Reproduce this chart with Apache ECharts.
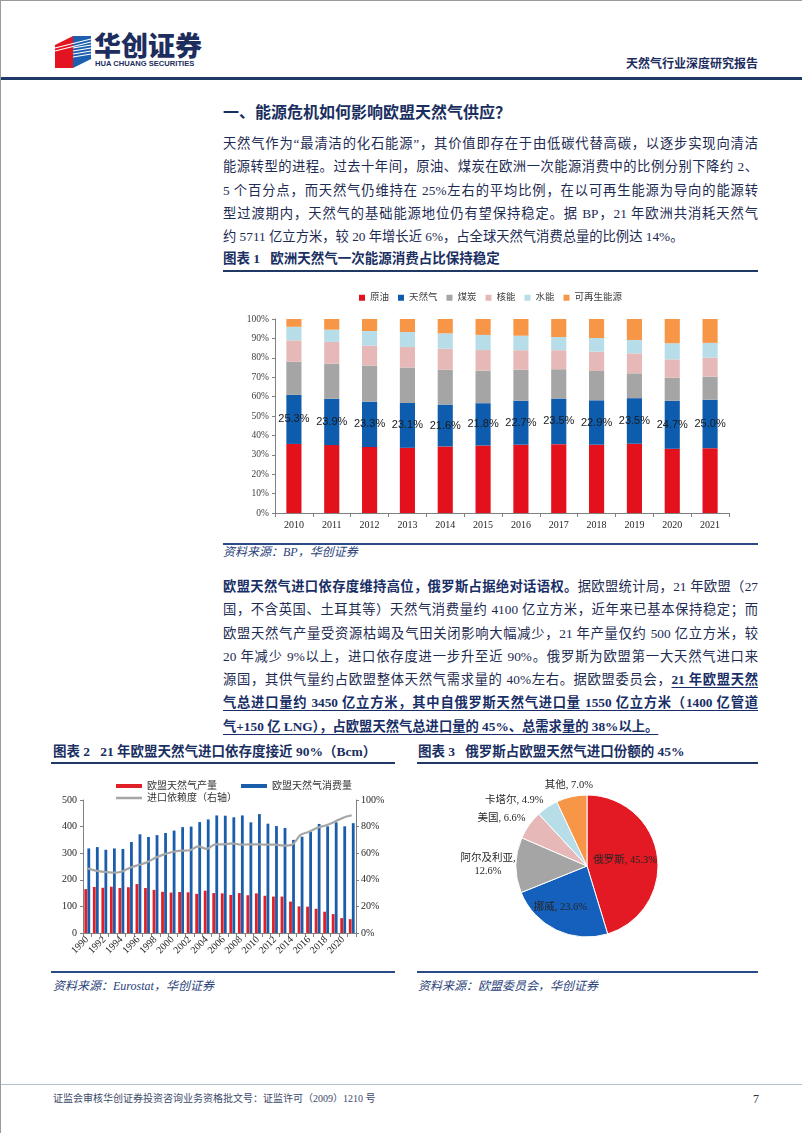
<!DOCTYPE html>
<html><head><meta charset="utf-8">
<script src="https://cdn.jsdelivr.net/npm/echarts/dist/echarts.min.js"></script>
<style>
html,body{margin:0;padding:0;background:#fff;}
#page{position:relative;width:802px;height:1133px;overflow:hidden;background:#fff;font-family:'Liberation Serif','Noto Sans CJK SC',serif;border-left:1px solid #9a9a9a;border-top:1px solid #9a9a9a;box-sizing:border-box;}
.t{position:absolute;white-space:nowrap;}
.rule{position:absolute;background:#1f3864;}
.para{position:absolute;left:222px;width:535px;font-size:13.3px;line-height:23.3px;color:#1d2b52;}
.para div{text-align:justify;text-align-last:justify;}
.para div.last{text-align:left;text-align-last:left;}
.b{font-weight:700;color:#182e66;}
.u{font-weight:700;color:#182e66;text-decoration:underline;text-underline-offset:3px;}
.title{font-size:13.5px;line-height:20px;font-weight:700;color:#1a2f62;}
.src{font-size:12px;line-height:20px;font-style:italic;color:#2a4279;}
.chart{position:absolute;}
</style></head>
<body>
<div id="page">
  <!-- header logo -->
  <svg style="position:absolute;left:50px;top:30px" width="44" height="40" viewBox="0 0 44 40">
    <polygon points="4,14 22,5 22,37 4,37" fill="#e3141f"/>
    <polygon points="22,5 40,5 40,28 22,37" fill="#1c5fb0"/>
    <g stroke="#fff" stroke-width="1.2">
      <line x1="4" y1="17" x2="40" y2="8"/>
      <line x1="4" y1="20" x2="40" y2="11"/>
      <line x1="22" y1="17" x2="40" y2="14"/>
      <line x1="22" y1="20" x2="40" y2="17"/>
      <line x1="22" y1="23" x2="40" y2="20"/>
      <line x1="22" y1="26" x2="40" y2="23"/>
    </g>
  </svg>
  <div class="t" style="left:93px;top:27px;font-size:27px;line-height:34px;font-weight:900;color:#1c2d5e;font-family:'Noto Sans CJK SC',sans-serif;">华创证券</div>
  <div class="t" style="left:94px;top:58px;font-size:7.6px;line-height:10px;font-weight:700;color:#1c2d5e;font-family:'Liberation Sans',sans-serif;">HUA CHUANG SECURITIES</div>
  <div class="t" style="left:625px;top:55px;font-size:12px;line-height:16px;font-weight:700;color:#1c2d5e;">天然气行业深度研究报告</div>
  <div class="rule" style="left:0;top:76px;width:802px;height:2.5px;background:#1f3a68;"></div>

  <div class="t" style="left:222px;top:101px;font-size:16px;line-height:22px;font-weight:700;color:#1a2f60;">一、能源危机如何影响欧盟天然气供应？</div>

  <div class="para" style="top:131px;">
    <div>天然气作为“最清洁的化石能源”，其价值即存在于由低碳代替高碳，以逐步实现向清洁</div>
    <div>能源转型的进程。过去十年间，原油、煤炭在欧洲一次能源消费中的比例分别下降约 2、</div>
    <div>5 个百分点，而天然气仍维持在 25%左右的平均比例，在以可再生能源为导向的能源转</div>
    <div>型过渡期内，天然气的基础能源地位仍有望保持稳定。据 BP，21 年欧洲共消耗天然气</div>
    <div class="last">约 5711 亿立方米，较 20 年增长近 6%，占全球天然气消费总量的比例达 14%。</div>
  </div>

  <div class="t title" style="left:222px;top:248px;">图表 1&nbsp;&nbsp;&nbsp;欧洲天然气一次能源消费占比保持稳定</div>
  <div class="rule" style="left:222px;top:269px;width:535px;height:2px;"></div>
  <div id="c1" class="chart" style="left:222px;top:280px;width:535px;height:258px;"></div>
  <div class="rule" style="left:222px;top:542px;width:535px;height:1.5px;background:#2a4b86;"></div>
  <div class="t src" style="left:222px;top:541px;">资料来源：BP，华创证券</div>

  <div class="para" style="top:574px;">
    <div><span class="b">欧盟天然气进口依存度维持高位，俄罗斯占据绝对话语权。</span>据欧盟统计局，21 年欧盟（27</div>
    <div>国，不含英国、土耳其等）天然气消费量约 4100 亿立方米，近年来已基本保持稳定；而</div>
    <div>欧盟天然气产量受资源枯竭及气田关闭影响大幅减少，21 年产量仅约 500 亿立方米，较</div>
    <div>20 年减少 9%以上，进口依存度进一步升至近 90%。俄罗斯为欧盟第一大天然气进口来</div>
    <div>源国，其供气量约占欧盟整体天然气需求量的 40%左右。据欧盟委员会，<span class="u">21 年欧盟天然</span></div>
    <div><span class="u">气总进口量约 3450 亿立方米，其中自俄罗斯天然气进口量 1550 亿立方米（1400 亿管道</span></div>
    <div class="last"><span class="u">气+150 亿 LNG），占欧盟天然气总进口量的 45%、总需求量的 38%以上。</span></div>
  </div>

  <div class="t title" style="left:52px;top:741px;">图表 2&nbsp;&nbsp;&nbsp;21 年欧盟天然气进口依存度接近 90%（Bcm）</div>
  <div class="t title" style="left:417px;top:741px;">图表 3&nbsp;&nbsp;&nbsp;俄罗斯占欧盟天然气进口份额的 45%</div>
  <div class="rule" style="left:50px;top:761px;width:344px;height:2px;"></div>
  <div class="rule" style="left:416px;top:761px;width:341px;height:2px;"></div>
  <div id="c2" class="chart" style="left:40px;top:768px;width:360px;height:200px;"></div>
  <div id="c3" class="chart" style="left:417px;top:768px;width:340px;height:200px;"></div>
  <div class="rule" style="left:50px;top:970px;width:344px;height:1.5px;background:#2a4b86;"></div>
  <div class="rule" style="left:416px;top:970px;width:341px;height:1.5px;background:#2a4b86;"></div>
  <div class="t src" style="left:52px;top:975px;">资料来源：Eurostat，华创证券</div>
  <div class="t src" style="left:417px;top:975px;">资料来源：欧盟委员会，华创证券</div>

  <div class="rule" style="left:0;top:1083px;width:802px;height:1px;background:#b3bfd3;"></div>
  <div class="t" style="left:52px;top:1090px;font-size:10px;line-height:16px;color:#3b4a6b;">证监会审核华创证券投资咨询业务资格批文号：证监许可（2009）1210 号</div>
  <div class="t" style="left:752px;top:1089px;font-size:12px;line-height:18px;color:#333;">7</div>
</div>

<script>
// ---------- Chart 1 data (share of primary energy consumption, %) ----------
const years1 = ['2010','2011','2012','2013','2014','2015','2016','2017','2018','2019','2020','2021'];
const oil     = [35.6, 35.0, 34.0, 33.6, 34.3, 34.8, 35.2, 35.5, 35.2, 35.7, 33.1, 33.4];
const gas     = [25.3, 23.9, 23.3, 23.1, 21.6, 21.8, 22.7, 23.5, 22.9, 23.5, 24.7, 25.0];
const coal    = [17.1, 18.1, 18.7, 18.3, 18.0, 16.8, 16.0, 15.1, 15.1, 12.8, 12.0, 11.9];
const nuclear = [11.0, 11.2, 10.3, 10.6, 10.8, 10.6, 10.0, 9.8, 10.0, 10.3, 9.4, 9.8];
const hydro   = [7.0, 6.3, 7.5, 7.7, 7.9, 7.8, 7.5, 6.8, 7.0, 6.9, 8.3, 7.6];
const renew   = [4.0, 5.5, 6.2, 6.7, 7.4, 8.2, 8.6, 9.3, 9.8, 10.8, 12.5, 12.3];
const names1  = ['原油','天然气','煤炭','核能','水能','可再生能源'];

// ---------- Chart 2 data (Bcm, %) ----------
const years2 = ['1990','1991','1992','1993','1994','1995','1996','1997','1998','1999','2000','2001','2002','2003','2004','2005','2006','2007','2008','2009','2010','2011','2012','2013','2014','2015','2016','2017','2018','2019','2020','2021'];
const production  = [165,173,170,174,169,172,184,169,162,155,152,154,153,147,159,150,149,143,150,142,149,140,137,137,118,100,99,91,80,71,56,52];
const consumption = [318,323,313,318,316,342,371,361,368,376,385,398,400,417,427,442,441,435,442,416,447,411,402,395,350,362,380,410,401,416,401,413];
const dependence  = [48.6,46.9,45.9,45.4,46.1,49.1,51.1,53.1,56.6,59.1,60.9,61.9,62.2,65.2,63.2,66.7,66.7,67.4,66.4,66.7,66.7,66.4,66.4,65.7,66.4,73.7,76.2,79.2,81.0,83.7,86.7,88.5];
const names2 = ['欧盟天然气产量','欧盟天然气消费量','进口依赖度（右轴）'];

// ---------- Chart 3 data (share of EU gas imports, %) ----------
const pieNames  = ['俄罗斯','挪威','阿尔及利亚','美国','卡塔尔','其他'];
const pieValues = [45.3, 23.6, 12.6, 6.6, 4.9, 7.0];

const SERIF = "'Liberation Serif','Noto Sans CJK SC',serif";
const colors1 = ['#e3111b','#0e5cae','#a5a5a5','#e6b9b8','#b7dde8','#f79646'];

// Chart 1
const c1 = echarts.init(document.getElementById('c1'), null, {renderer:'canvas'});
const data1 = [oil, gas, coal, nuclear, hydro, renew];
c1.setOption({
  animation:false,
  color: colors1,
  legend:{top:7,left:'center',icon:'rect',itemWidth:6,itemHeight:6,itemGap:9,
    textStyle:{fontSize:9.5,color:'#404040',fontFamily:SERIF}, data:names1},
  grid:{left:52,top:38,width:454,height:194},
  xAxis:{type:'category',data:years1,boundaryGap:true,
    axisLine:{lineStyle:{color:'#808080'}},
    axisTick:{show:true,length:4,lineStyle:{color:'#808080'}},
    axisLabel:{fontSize:10,color:'#262626',fontFamily:SERIF,margin:7}},
  yAxis:{type:'value',min:0,max:100,interval:10,
    axisLine:{show:true,lineStyle:{color:'#808080'}},
    axisTick:{show:true,length:3,lineStyle:{color:'#808080'}},
    splitLine:{show:false},
    axisLabel:{formatter:'{value}%',fontSize:9.5,color:'#404040',fontFamily:SERIF,margin:6}},
  series: names1.map((n,i)=>({
    name:n,type:'bar',stack:'all',barWidth:'40%',data:data1[i],
    label: i===1 ? {show:true,position:'inside',color:'#1a1a1a',fontSize:11,
      fontFamily:"'Liberation Sans','Noto Sans',sans-serif",
      formatter:p=>p.value.toFixed(1)+'%'} : {show:false}
  }))
});

// Chart 2
const c2 = echarts.init(document.getElementById('c2'), null, {renderer:'canvas'});
c2.setOption({
  animation:false,
  legend:[
    {left:70,top:7,itemWidth:26,itemHeight:4,itemGap:24,icon:'rect',
     textStyle:{fontSize:10,color:'#333',fontFamily:SERIF},data:[names2[0],names2[1]]},
    {left:70,top:19,itemWidth:26,itemHeight:2.5,icon:'rect',
     textStyle:{fontSize:10,color:'#333',fontFamily:SERIF},data:[names2[2]]}
  ],
  grid:{left:42,top:31,width:273,height:133},
  xAxis:{type:'category',data:years2,boundaryGap:true,
    axisLine:{lineStyle:{color:'#808080'}},
    axisTick:{show:true,interval:0,length:4,lineStyle:{color:'#808080'}},
    axisLabel:{interval:1,rotate:45,fontSize:10,color:'#262626',fontFamily:SERIF,margin:5}},
  yAxis:[
    {type:'value',min:0,max:500,interval:100,
     axisLine:{show:true,lineStyle:{color:'#808080'}},
     axisTick:{show:true,length:3,lineStyle:{color:'#808080'}},
     splitLine:{show:false},
     axisLabel:{fontSize:10,color:'#262626',fontFamily:SERIF,margin:6}},
    {type:'value',min:0,max:100,interval:20,position:'right',
     axisLine:{show:true,lineStyle:{color:'#808080'}},
     axisTick:{show:true,length:3,lineStyle:{color:'#808080'}},
     splitLine:{show:false},
     axisLabel:{formatter:'{value}%',fontSize:10,color:'#262626',fontFamily:SERIF,margin:5}}
  ],
  series:[
    {name:names2[0],type:'bar',data:production,barWidth:2.8,barGap:'8%',itemStyle:{color:'#e11f26'}},
    {name:names2[1],type:'bar',data:consumption,barWidth:2.8,barGap:'8%',itemStyle:{color:'#1a5dab'}},
    {name:names2[2],type:'line',yAxisIndex:1,data:dependence,smooth:0.3,showSymbol:false,
     lineStyle:{color:'#a6a6a6',width:2.2},itemStyle:{color:'#a6a6a6'}}
  ]
});

// Chart 3
const colors3 = ['#e31a23','#1560bd','#a5a5a5','#e6b9b8','#b7dde8','#f79646'];
const pieShift = [{}, {dx:-10,dy:7}, {dx:-20,align:'center'}, {dx:4,dy:-5}, {dx:3,dy:-4}, {dx:3,dy:-9,align:'center'}];
const c3 = echarts.init(document.getElementById('c3'), null, {renderer:'canvas'});
c3.setOption({
  animation:false,
  series:[{
    type:'pie',center:[169,97],radius:71,startAngle:90,clockwise:true,avoidLabelOverlap:false,
    itemStyle:{borderColor:'#fff',borderWidth:1},
    label:{fontSize:10.5,color:'#262626',fontFamily:SERIF,lineHeight:13,
      formatter:p=> p.dataIndex===2 ? p.name+',\n'+p.value.toFixed(1)+'%' : p.name+', '+p.value.toFixed(1)+'%'},
    labelLine:{show:false,length:3,length2:0},
    labelLayout:p=>pieShift[p.dataIndex],
    data: pieNames.map((n,i)=>({name:n,value:pieValues[i],itemStyle:{color:colors3[i]},
      label: i<2 ? {position:'inside'} : {position:'outside'}}))
  }]
});
</script>
</body></html>
